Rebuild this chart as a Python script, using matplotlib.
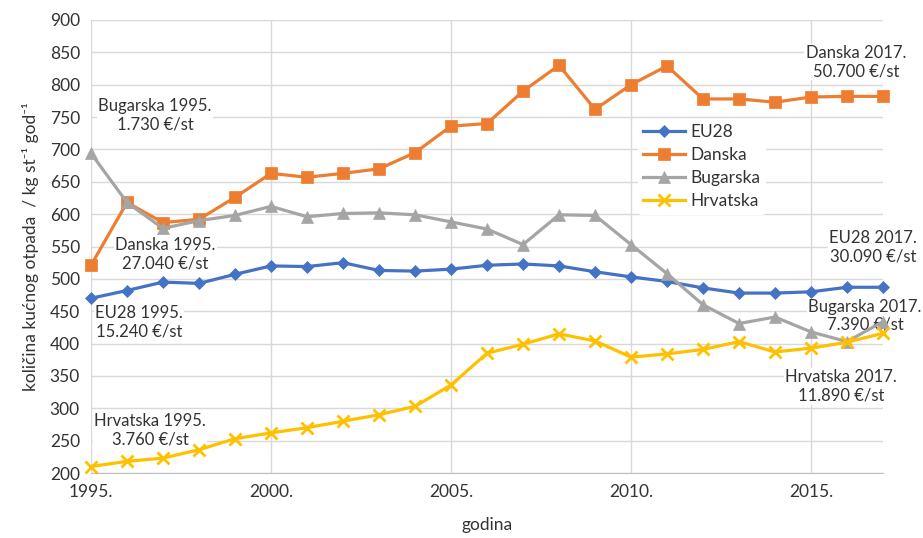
import matplotlib
matplotlib.use("Agg")
import matplotlib.pyplot as plt

plt.rcParams['font.family'] = ['Lato', 'DejaVu Sans']

years = list(range(1995, 2018))

eu28 = [470, 482, 495, 493, 507, 520, 519, 525, 513, 512, 515, 521, 523,
        520, 511, 503, 496, 486, 478, 478, 480, 487, 487]
danska = [521, 618, 587, 592, 626, 663, 657, 663, 670, 695, 736, 740, 790,
          830, 762, 800, 829, 778, 778, 773, 781, 782, 782]
bugarska = [694, 618, 578, 590, 598, 612, 596, 601, 602, 599, 588, 577, 553,
            599, 598, 553, 508, 460, 431, 441, 418, 403, 434]
hrvatska = [210, 218, 223, 236, 253, 262, 270, 280, 290, 303, 336, 385, 399,
            415, 404, 379, 384, 391, 403, 387, 393, 402, 416]

series_names = ["EU28", "Danska", "Bugarska", "Hrvatska"]
colors = ["#4472C4", "#ED7D31", "#A5A5A5", "#FFC000"]
markers = ["D", "s", "^", "x"]

# annotation texts and where they sit (year, value)
notes = [
    ("Bugarska 1995.\n1.730 €/st", 1996.78, 753),
    ("Danska 1995.\n27.040 €/st", 1997.06, 538),
    ("EU28 1995.\n15.240 €/st", 1996.33, 433),
    ("Hrvatska 1995.\n3.760 €/st", 1996.64, 266),
    ("Danska 2017.\n50.700 €/st", 2016.25, 835),
    ("EU28 2017.\n30.090 €/st", 2016.72, 549),
    ("Bugarska 2017.\n7.390 €/st", 2016.5, 443),
    ("Hrvatska 2017.\n11.890 €/st", 2015.83, 334),
]

fig = plt.figure(figsize=(9.23, 5.38), dpi=100)
ax = fig.add_axes([91 / 923, 65 / 538, 792 / 923, 453 / 538])

msizes = [6.5, 8, 8, 8]
for vals, name, c, m, ms in zip([eu28, danska, bugarska, hrvatska],
                                series_names, colors, markers, msizes):
    ax.plot(years, vals, color=c, marker=m, markersize=ms, linewidth=2.3,
            markeredgewidth=2 if m == "x" else 0.5, label=name, zorder=3,
            clip_on=False)

for txt, x, y in notes:
    ax.text(x, y, txt, ha="center", va="center", fontsize=12, color="#333333",
            linespacing=1.15, zorder=2,
            bbox=dict(facecolor="white", edgecolor="none", pad=1))

ax.set_xlim(1995, 2017)
ax.set_ylim(200, 900)
ax.set_xticks([1995, 2000, 2005, 2010, 2015])
ax.set_xticklabels(["1995.", "2000.", "2005.", "2010.", "2015."])
ax.set_yticks(range(200, 901, 50))
ax.tick_params(length=0, labelsize=12.5, labelcolor="#333333", pad=8)
ax.grid(True, color="#D9D9D9", linewidth=1, zorder=0)
ax.set_axisbelow(True)
for s in ["top", "right", "left"]:
    ax.spines[s].set_visible(False)
ax.spines["bottom"].set_color("#BFBFBF")

ax.set_xlabel("godina", fontsize=12.5, color="#333333", labelpad=12)
ax.set_ylabel("količina kućnog otpada  / kg st⁻¹ god⁻¹", fontsize=12.5,
              color="#333333", labelpad=8)

leg = ax.legend(loc="upper left", bbox_to_anchor=(0.68, 0.80), fontsize=12.5,
                frameon=True, handlelength=2.4, handletextpad=0.3,
                labelspacing=0.4, borderpad=0.3)
leg.get_frame().set_facecolor("white")
leg.get_frame().set_edgecolor("none")
leg.get_frame().set_alpha(1)
for t in leg.get_texts():
    t.set_color("#333333")

fig.savefig("out.png", dpi=100)
